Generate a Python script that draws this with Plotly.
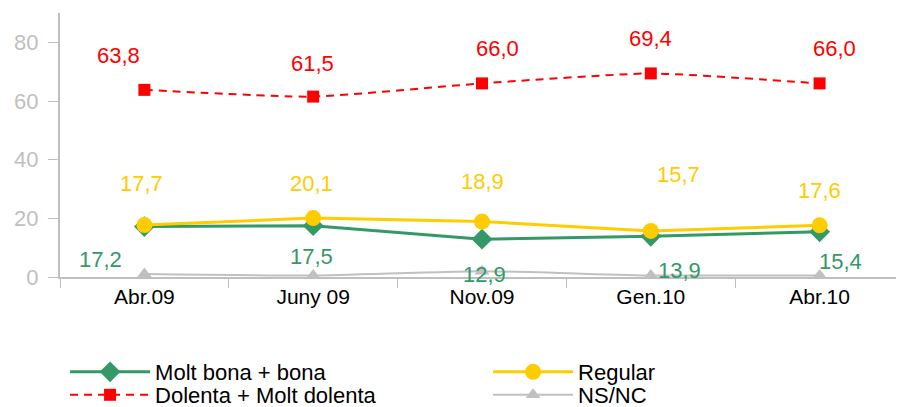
import plotly.graph_objects as go

categories = ["Abr.09", "Juny 09", "Nov.09", "Gen.10", "Abr.10"]
molt_bona = [17.2, 17.5, 12.9, 13.9, 15.4]
regular = [17.7, 20.1, 18.9, 15.7, 17.6]
dolenta = [63.8, 61.5, 66.0, 69.4, 66.0]
nsnc = [1.0, 0.5, 2.0, 0.5, 0.5]

def fmt(v):
    return f"{v:.1f}".replace(".", ",")

GREEN = "#339966"
YELLOW = "#ffcc00"
RED = "#ff0000"
GREY = "#c0c0c0"
AXIS = "#bfbfbf"
FONT = "Liberation Sans, Arial, sans-serif"
FS = 22

fig = go.Figure()
fig.add_trace(go.Scatter(x=categories, y=molt_bona, name="Molt bona + bona", mode="lines+markers",
                         line=dict(color=GREEN, width=3),
                         marker=dict(symbol="diamond", size=16, color=GREEN), legend="legend"))
fig.add_trace(go.Scatter(x=categories, y=regular, name="Regular", mode="lines+markers",
                         line=dict(color=YELLOW, width=3),
                         marker=dict(symbol="circle", size=16, color=YELLOW), legend="legend"))
fig.add_trace(go.Scatter(x=categories, y=dolenta, name="Dolenta + Molt dolenta", mode="lines+markers",
                         line=dict(color=RED, width=2, dash="8px,6px", shape="spline", smoothing=0.5),
                         marker=dict(symbol="square", size=12, color=RED), legend="legend2"))
fig.add_trace(go.Scatter(x=categories, y=nsnc, name="NS/NC", mode="lines+markers",
                         line=dict(color=GREY, width=2, shape="spline", smoothing=0.5),
                         marker=dict(symbol="triangle-up", size=13, color=GREY), legend="legend2"))

annotations = []
red_dx = [-26, -1, 15, 0, 15]
red_dy = [34, 33, 35, 35, 35]
for c, v, dx, dy in zip(categories, dolenta, red_dx, red_dy):
    annotations.append(dict(x=c, y=v, text=fmt(v), showarrow=False, xshift=dx, yshift=dy,
                            font=dict(color=RED, size=FS, family=FONT)))
yel_dx = [-3, -2, 0, 28, 0]
yel_dy = [42, 35, 40, 56, 35]
for c, v, dx, dy in zip(categories, regular, yel_dx, yel_dy):
    annotations.append(dict(x=c, y=v, text=fmt(v), showarrow=False, xshift=dx, yshift=dy,
                            font=dict(color=YELLOW, size=FS, family=FONT)))
grn_dx = [-44, -2, 2, 29, 21]
grn_dy = [-33, -31, -35, -34, -30]
for c, v, dx, dy in zip(categories, molt_bona, grn_dx, grn_dy):
    annotations.append(dict(x=c, y=v, text=fmt(v), showarrow=False, xshift=dx, yshift=dy,
                            font=dict(color=GREEN, size=FS, family=FONT)))

legend_common = dict(orientation="h", x=0.006, xanchor="left", yanchor="middle",
                     entrywidth=328, entrywidthmode="pixels", tracegroupgap=0,
                     font=dict(size=FS, family=FONT, color="black"), itemwidth=80,
                     bgcolor="rgba(0,0,0,0)")

fig.update_layout(
    width=896, height=399,
    margin=dict(l=52, r=0, t=5, b=130, autoexpand=False),
    paper_bgcolor="white", plot_bgcolor="white",
    font=dict(family=FONT, size=FS, color="black"),
    annotations=annotations,
    showlegend=True,
    legend=dict(y=-0.3598, **legend_common),
    legend2=dict(y=-0.447, **legend_common),
    xaxis=dict(range=[-0.5, 4.5], showline=True, linecolor=AXIS, linewidth=2,
               ticks="outside", tickson="boundaries", ticklen=9, tickcolor=AXIS, tickwidth=1,
               showgrid=False, zeroline=False, automargin=False,
               tickfont=dict(size=FS - 1, color="black", family=FONT)),
    yaxis=dict(range=[0, 90], tickvals=[0, 20, 40, 60, 80], showline=True, linecolor=AXIS,
               linewidth=2, ticks="outside", ticklen=10, tickcolor=AXIS, tickwidth=1,
               showgrid=False, zeroline=False, ticklabelstandoff=5, automargin=False,
               tickfont=dict(size=FS, color=AXIS, family=FONT)),
)

fig.write_html("out.html")
